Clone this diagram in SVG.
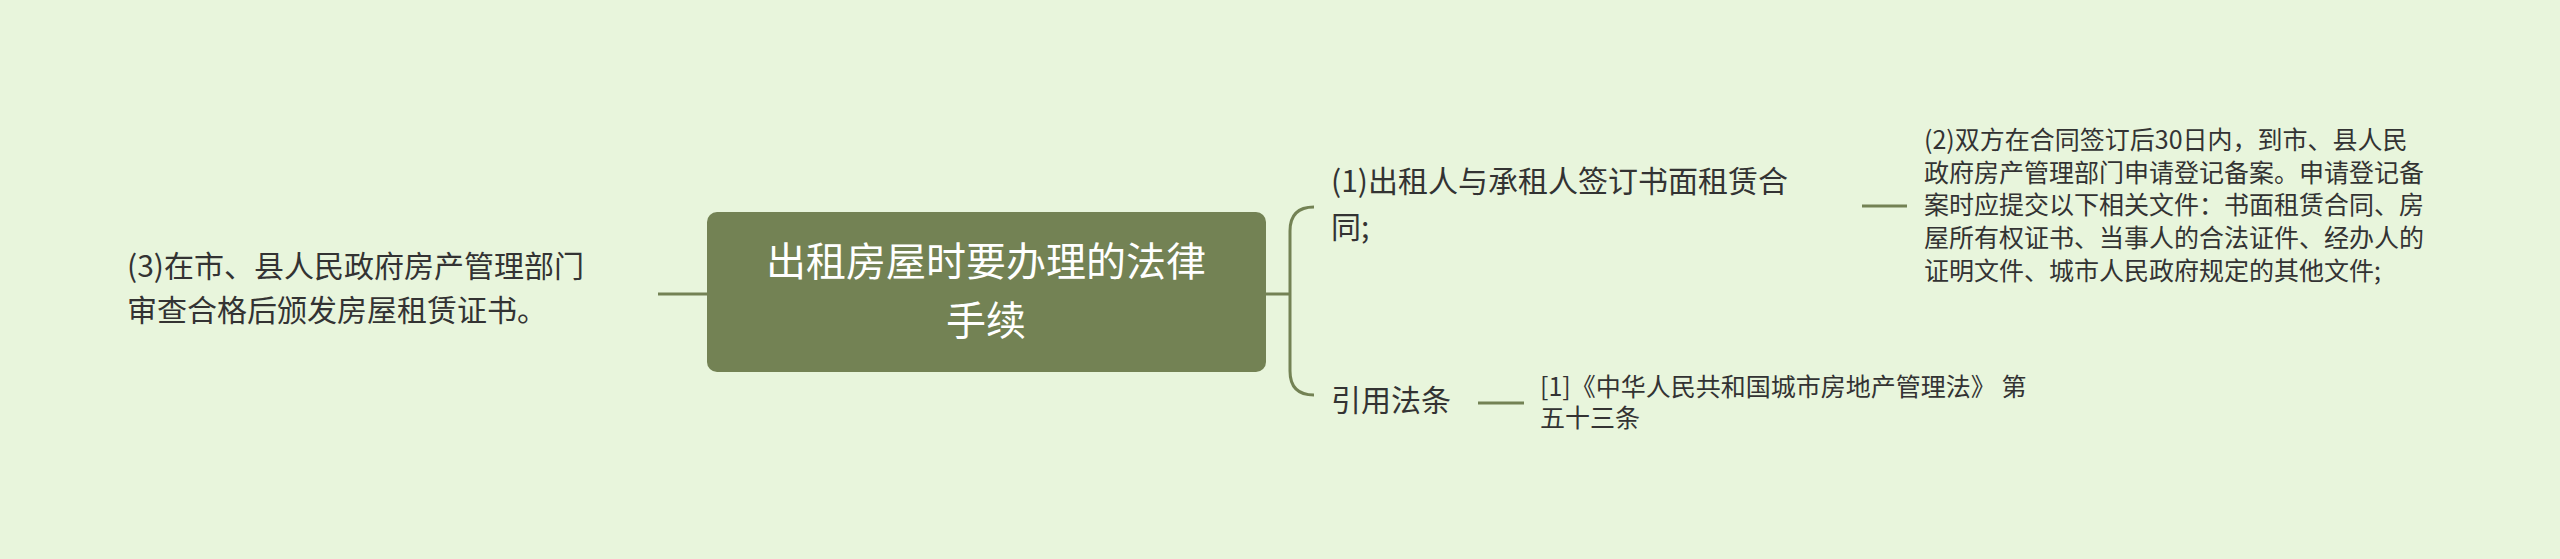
<svg xmlns="http://www.w3.org/2000/svg" width="2560" height="559" viewBox="0 0 2560 559">
<style>
text{font-family:"Noto Sans CJK SC","Noto Sans",sans-serif;fill:#333;dominant-baseline:middle}
.c{stroke:#738254;stroke-width:3;fill:none}
</style>
<rect width="2560" height="559" fill="#e8f5dc"/>
<g id="connectors">
<path class="c" d="M658 294H707"/>
<path class="c" d="M1266 294H1290M1314 207Q1290 207 1290 231V371Q1290 395 1314 395"/>
<path class="c" d="M1862 206H1907"/>
<path class="c" d="M1478 403H1524"/>
</g>
<g id="root">
<rect x="707" y="212" width="559" height="160" rx="10" fill="#738254"/>
<text x="986" y="265" font-size="40" text-anchor="middle" fill="#fff" style="fill:#fff">出租房屋时要办理的法律</text>
<text x="986" y="324" font-size="40" text-anchor="middle" style="fill:#fff">手续</text>
</g>
<g id="n3">
<text x="127" y="269" font-size="30">(3)在市、县人民政府房产管理部门</text>
<text x="127" y="313" font-size="30">审查合格后颁发房屋租赁证书。</text>
</g>
<g id="n1">
<text x="1331" y="184" font-size="30">(1)出租人与承租人签订书面租赁合</text>
<text x="1331" y="230" font-size="30">同;</text>
</g>
<g id="n2">
<text x="1924" y="142" font-size="25">(2)双方在合同签订后30日内，到市、县人民</text>
<text x="1924" y="175" font-size="25">政府房产管理部门申请登记备案。申请登记备</text>
<text x="1924" y="207" font-size="25">案时应提交以下相关文件：书面租赁合同、房</text>
<text x="1924" y="240" font-size="25">屋所有权证书、当事人的合法证件、经办人的</text>
<text x="1924" y="273" font-size="25">证明文件、城市人民政府规定的其他文件;</text>
</g>
<g id="law">
<text x="1331" y="403" font-size="30">引用法条</text>
</g>
<g id="ref">
<text x="1540" y="389" font-size="25">[1]《中华人民共和国城市房地产管理法》 第</text>
<text x="1540" y="420" font-size="25">五十三条</text>
</g>
</svg>
